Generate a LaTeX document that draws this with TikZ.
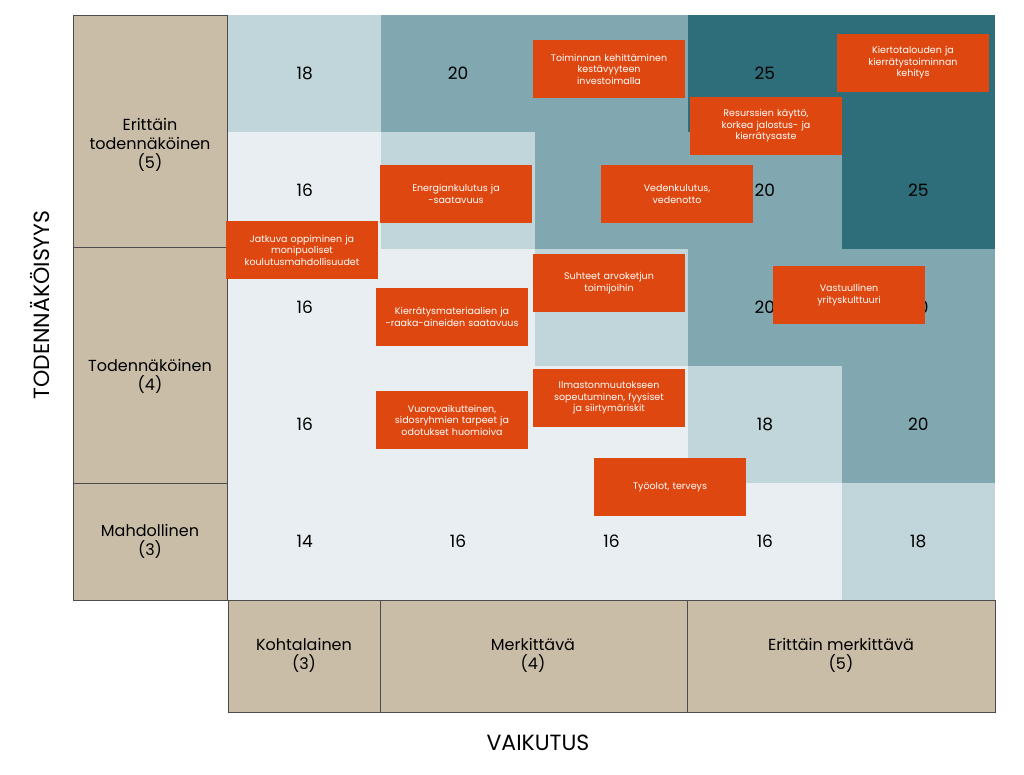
\documentclass[tikz,border=0pt]{standalone}
\usepackage{fontspec}
\setmainfont{Poppins}
\begin{document}
\begin{tikzpicture}[x=1pt,y=-1pt,
 cell/.style={draw=none},
 num/.style={font=\fontsize{17}{20}\selectfont,text=black},
 lab/.style={draw=black!70,fill=beige,line width=0.8pt},
 labtxt/.style={font=\fontsize{16}{19}\selectfont,align=center,text=black},
 tag/.style={fill=orng,text=white,font=\fontsize{9.5}{11.5}\selectfont,align=center,minimum width=152pt,minimum height=58pt,inner sep=2pt,text width=140pt}]
\definecolor{beige}{HTML}{C9BDA8}
\definecolor{vl}{HTML}{E8EEF1}
\definecolor{li}{HTML}{C1D6DB}
\definecolor{me}{HTML}{81A8B1}
\definecolor{dk}{HTML}{2E6E7B}
\definecolor{orng}{HTML}{DE470F}
\useasboundingbox (0,0) rectangle (1024,774);
\fill[white] (0,0) rectangle (1024,774);
% grid cells
\def\xs{{228,381.4,534.8,688.2,841.6,995}}
\def\ys{{15,132,249,366,483,600}}
\foreach \r/\c/\col/\n in {0/0/li/18,0/1/me/20,0/2/me/,0/3/dk/25,0/4/dk/,
 1/0/vl/16,1/1/li/,1/2/me/,1/3/me/20,1/4/dk/25,
 2/0/vl/16,2/1/vl/,2/2/li/,2/3/me/20,2/4/me/20,
 3/0/vl/16,3/1/vl/,3/2/vl/,3/3/li/18,3/4/me/20,
 4/0/vl/14,4/1/vl/16,4/2/vl/16,4/3/vl/16,4/4/li/18}{
 \pgfmathsetmacro\xa{\xs[\c]}\pgfmathsetmacro\xb{\xs[\c+1]}
 \pgfmathsetmacro\ya{\ys[\r]}\pgfmathsetmacro\yb{\ys[\r+1]}
 \fill[\col] (\xa,\ya) rectangle (\xb,\yb);
 \node[num] (n\r\c) at ({(\xa+\xb)/2},{(\ya+\yb)/2}) {\n};
}
% left labels
\draw[lab] (73,15) rectangle (227,247);
\node[labtxt] (l5) at (150,145) {Erittäin\\todennäköinen\\(5)};
\draw[lab] (73,247) rectangle (227,483);
\node[labtxt] (l4) at (150,376) {Todennäköinen\\(4)};
\draw[lab] (73,483) rectangle (227,600);
\node[labtxt] (l3) at (150,541) {Mahdollinen\\(3)};
% bottom labels
\draw[lab] (228,600) rectangle (380,712);
\node[labtxt] (b3) at (304,655) {Kohtalainen\\(3)};
\draw[lab] (380,600) rectangle (687,712);
\node[labtxt] (b4) at (533,655) {Merkittävä\\(4)};
\draw[lab] (687,600) rectangle (995,712);
\node[labtxt] (b5) at (841,655) {Erittäin merkittävä\\(5)};
% axis titles
\node[rotate=90,font=\fontsize{22}{26}\selectfont] (ay) at (40,305) {TODENNÄKÖISYYS};
\node[font=\fontsize{22}{26}\selectfont] (ax) at (538,743) {VAIKUTUS};
% tags
\node[tag] (t1) at (609,69) {Toiminnan kehittäminen\\kestävyyteen\\investoimalla};
\node[tag] (t2) at (913,63) {Kiertotalouden ja\\kierrätystoiminnan\\kehitys};
\node[tag] (t3) at (766,126) {Resurssien käyttö,\\korkea jalostus- ja\\kierrätysaste};
\node[tag] (t4) at (456,194) {Energiankulutus ja\\-saatavuus};
\node[tag] (t5) at (677,194) {Vedenkulutus,\\vedenotto};
\node[tag] (t6) at (302,250) {Jatkuva oppiminen ja\\monipuoliset\\koulutusmahdollisuudet};
\node[tag] (t7) at (609,283) {Suhteet arvoketjun\\toimijoihin};
\node[tag] (t8) at (452,317) {Kierrätysmateriaalien ja\\-raaka-aineiden saatavuus};
\node[tag] (t9) at (849,295) {Vastuullinen\\yrityskulttuuri};
\node[tag] (t10) at (609,398) {Ilmastonmuutokseen\\sopeutuminen, fyysiset\\ja siirtymäriskit};
\node[tag] (t11) at (452,420) {Vuorovaikutteinen,\\sidosryhmien tarpeet ja\\odotukset huomioiva};
\node[tag] (t12) at (670,487) {Työolot, terveys};
\end{tikzpicture}
\end{document}
